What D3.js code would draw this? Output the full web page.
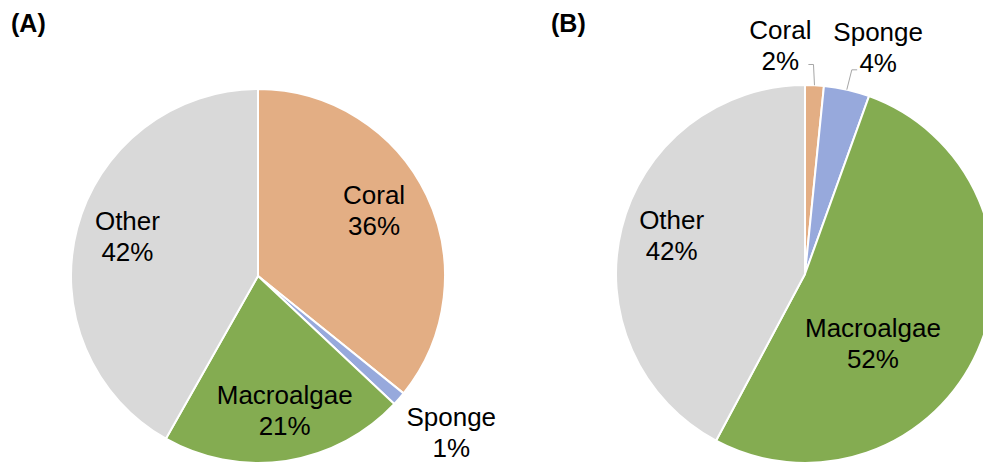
<!DOCTYPE html>
<html>
<head>
<meta charset="utf-8">
<script src="https://cdn.jsdelivr.net/npm/d3@7"></script>
<style>
  body { margin: 0; background: #fff; }
  svg { display: block; font-family: "Liberation Sans", Arial, sans-serif; }
</style>
</head>
<body>
<div class="page"></div>
<script>
var categories = ['Coral', 'Sponge', 'Macroalgae', 'Other'];
var valuesA = [35.8, 1.2, 21.2, 41.8];
var valuesB = [1.6, 3.9, 52.3, 42.2];
var labelsA = ['36%', '1%', '21%', '42%'];
var labelsB = ['2%', '4%', '52%', '42%'];
var colors = ['#e3ae84', '#97a9dc', '#84ac51', '#d9d9d9'];

var width = 983, height = 464;

var svg = d3.select('.page').append('svg')
  .attr('width', width)
  .attr('height', height);

// nudges for labels, relative to the label-arc centroid
// leader: [elbow dx from edge point, y offset from label, end x offset from label]
var panels = [
  { title: '(A)', tx: 11, cx: 258, cy: 276, r: 187, values: valuesA, labels: labelsA,
    outside: [false, true, false, false],
    nudge: [[-2, -10], [24, 9], [7, 5], [-4, -7]],
    leader: [null, null, null, null] },
  { title: '(B)', tx: 551, cx: 805, cy: 274, r: 189, values: valuesB, labels: labelsB,
    outside: [true, true, false, false],
    nudge: [[-36, -3], [23, -6], [-53, 15], [-5, -7]],
    leader: [[-1, 20, 28], [5, 23, -21], null, null] }
];

var pie = d3.pie().sort(null).value(function(d) { return d; });

panels.forEach(function(p) {
  svg.append('text')
    .text(p.title)
    .attr('x', p.tx)
    .attr('y', 32)
    .style('font-size', '25px')
    .style('font-weight', 'bold')
    .attr('fill', '#000');

  var g = svg.append('g')
    .attr('transform', 'translate(' + p.cx + ',' + p.cy + ')');

  var arcs = pie(p.values);
  var arc = d3.arc().innerRadius(0).outerRadius(p.r);
  var inArc = d3.arc().innerRadius(p.r * 0.7).outerRadius(p.r * 0.7);
  var outArc = d3.arc().innerRadius(p.r * 1.2).outerRadius(p.r * 1.2);
  var edgeArc = d3.arc().innerRadius(p.r).outerRadius(p.r);

  g.selectAll('path.slice').data(arcs)
    .enter()
    .append('path')
    .attr('class', 'slice')
    .attr('d', arc)
    .attr('fill', function(d, i) { return colors[i]; })
    .attr('stroke', '#fff')
    .attr('stroke-width', 2)
    .attr('stroke-linejoin', 'round');

  arcs.forEach(function(d, i) {
    var c = (p.outside[i] ? outArc : inArc).centroid(d);
    var x = c[0] + p.nudge[i][0], y = c[1] + p.nudge[i][1];

    var L = p.leader[i];
    if (L) {
      var e = edgeArc.centroid(d);
      var pts = [e, [e[0] + L[0], y + L[1]], [x + L[2], y + L[1]]];
      g.append('path')
        .attr('d', d3.line()(pts))
        .attr('fill', 'none')
        .attr('stroke', '#a6a6a6')
        .attr('stroke-width', 1);
    }

    var t = g.append('text')
      .attr('text-anchor', 'middle')
      .style('font-size', '26px')
      .attr('fill', '#000');
    t.append('tspan').attr('x', x).attr('y', y - 6).text(categories[i]);
    t.append('tspan').attr('x', x).attr('y', y + 25).text(p.labels[i]);
  });
});
</script>
</body>
</html>
